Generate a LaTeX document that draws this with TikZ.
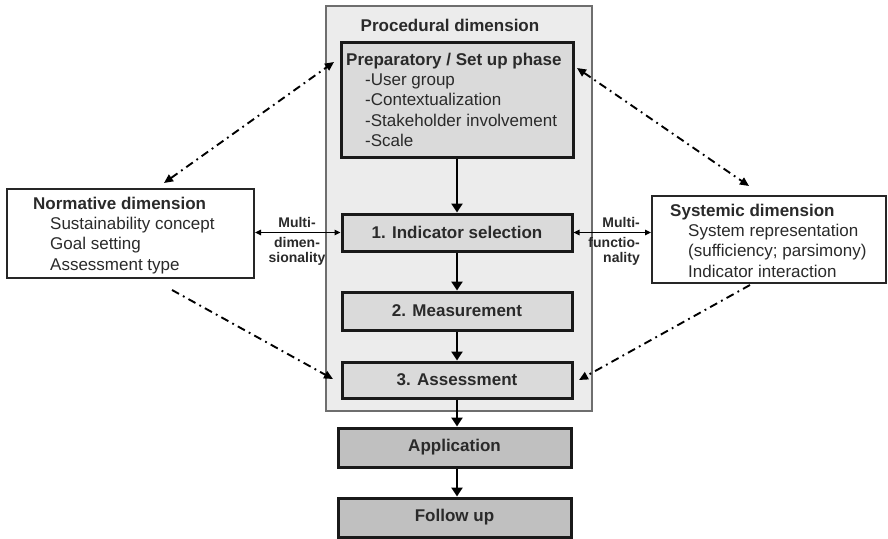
\documentclass[tikz,border=0pt]{standalone}
\usepackage{fontspec}
\setmainfont{Liberation Sans}
\usetikzlibrary{arrows.meta}
\definecolor{txt}{HTML}{2A2A2A}
\definecolor{outerfill}{HTML}{ECECEC}
\definecolor{stepfill}{HTML}{DADADA}
\definecolor{appfill}{HTML}{C0C0C0}
\definecolor{outerline}{HTML}{6E6E6E}
\begin{document}
\begin{tikzpicture}[x=1pt,y=-1pt,
  every node/.style={text=txt},
  bigfont/.style={font=\fontsize{17}{20.3}\selectfont},
  boldfont/.style={font=\fontsize{17}{20.3}\selectfont\bfseries},
  smallbold/.style={font=\fontsize{14}{15.5}\selectfont\bfseries},
  outerbox/.style={draw=outerline, line width=1.4pt, fill=outerfill, inner sep=0pt},
  stepbox/.style={draw=black!90, line width=3pt, fill=stepfill, inner sep=0pt, boldfont},
  appbox/.style={draw=black!90, line width=3pt, fill=appfill, inner sep=0pt, boldfont},
  dimbox/.style={draw=black!85, line width=2pt, fill=white, inner sep=0pt},
  textblock/.style={bigfont, align=left, inner sep=0pt, anchor=north west},
  flow/.style={line width=2.8pt, -{Triangle[length=9pt,width=11pt]}},
  multi/.style={line width=1.3pt, {Triangle[length=6pt,width=5.5pt]}-{Triangle[length=6pt,width=5.5pt]}},
  dashdot/.style={line width=1.9pt, dash pattern=on 8pt off 4.5pt on 1.8pt off 4.5pt},
  ddhead/.style={-{Triangle[length=9pt,width=8pt]}},
  ddboth/.style={{Triangle[length=9pt,width=8pt]}-{Triangle[length=9pt,width=8pt]}}
]
\useasboundingbox (0,0) rectangle (888,538);

% procedural container
\node[outerbox, minimum width=266pt, minimum height=405pt] (proc) at (459,208.5) {};
\node[boldfont, anchor=base] (proctitle) at (450,31) {Procedural dimension};

% preparatory phase
\node[stepbox, minimum width=232pt, minimum height=115pt] (prep) at (457,99.5) {};
\node[textblock] (preptext) at (346,52.6) {\textbf{Preparatory / Set up phase}\\
  \hspace*{19pt}-User group\\
  \hspace*{19pt}-Contextualization\\
  \hspace*{19pt}-Stakeholder involvement\\
  \hspace*{19pt}-Scale};

% steps
\node[stepbox, minimum width=230pt, minimum height=37pt] (ind) at (457,232.5) {1. Indicator selection};
\node[stepbox, minimum width=230pt, minimum height=38pt] (meas) at (457,311) {2. Measurement};
\node[stepbox, minimum width=230pt, minimum height=36pt] (ass) at (457,380) {3. Assessment};
\node[appbox, minimum width=233pt, minimum height=39pt] (app) at (454.5,447.5) {Application};
\node[appbox, minimum width=233pt, minimum height=39pt] (fol) at (454.5,517.5) {Follow up};

% side dimensions
\node[dimbox, minimum width=247pt, minimum height=89pt] (norm) at (130.5,233.5) {};
\node[textblock] (normtext) at (33,196.6) {\textbf{Normative dimension}\\
  \hspace*{17pt}Sustainability concept\\
  \hspace*{17pt}Goal setting\\
  \hspace*{17pt}Assessment type};

\node[dimbox, minimum width=234pt, minimum height=87pt] (sys) at (769,239.5) {};
\node[textblock] (systext) at (670,203.6) {\textbf{Systemic dimension}\\
  \hspace*{18pt}System representation\\
  \hspace*{18pt}(sufficiency; parsimony)\\
  \hspace*{18pt}Indicator interaction};

% flow arrows
\draw[flow] (prep.south) -- (ind.north);
\draw[flow] (ind.south) -- (meas.north);
\draw[flow] (meas.south) -- (ass.north);
\draw[flow] (ass.south) -- (ass.south |- app.north);
\draw[flow] (app.south -| ass.south) -- (ass.south |- fol.north);

% multi arrows and labels
\draw[multi] (ind.west) -- (ind.west -| norm.east);
\draw[multi] (ind.east) -- (ind.east -| sys.west);
\node[smallbold, anchor=base] (mlA) at (297,227.5) {Multi-};
\node[smallbold, align=center, anchor=north, inner sep=0pt] (mlB) at (297,237) {dimen-\\sionality};
\node[smallbold, anchor=base east, inner sep=0pt] (mrA) at (640,227.5) {Multi-};
\node[smallbold, align=right, anchor=north east, inner sep=0pt] (mrB) at (640,237) {functio-\\nality};

% dash-dot relations
\coordinate (n1) at (164,183);
\coordinate (p1) at (334,62);
\coordinate (p2) at (577,68);
\coordinate (s1) at (749,186);
\coordinate (n2) at (172,290);
\coordinate (a1) at (333,379);
\coordinate (s2) at (750,285);
\coordinate (a2) at (579,380);
\draw[dashdot, ddboth] (n1) -- (p1);
\draw[dashdot, ddboth] (p2) -- (s1);
\draw[dashdot, ddhead] (n2) -- (a1);
\draw[dashdot, ddhead] (s2) -- (a2);
\end{tikzpicture}
\end{document}
